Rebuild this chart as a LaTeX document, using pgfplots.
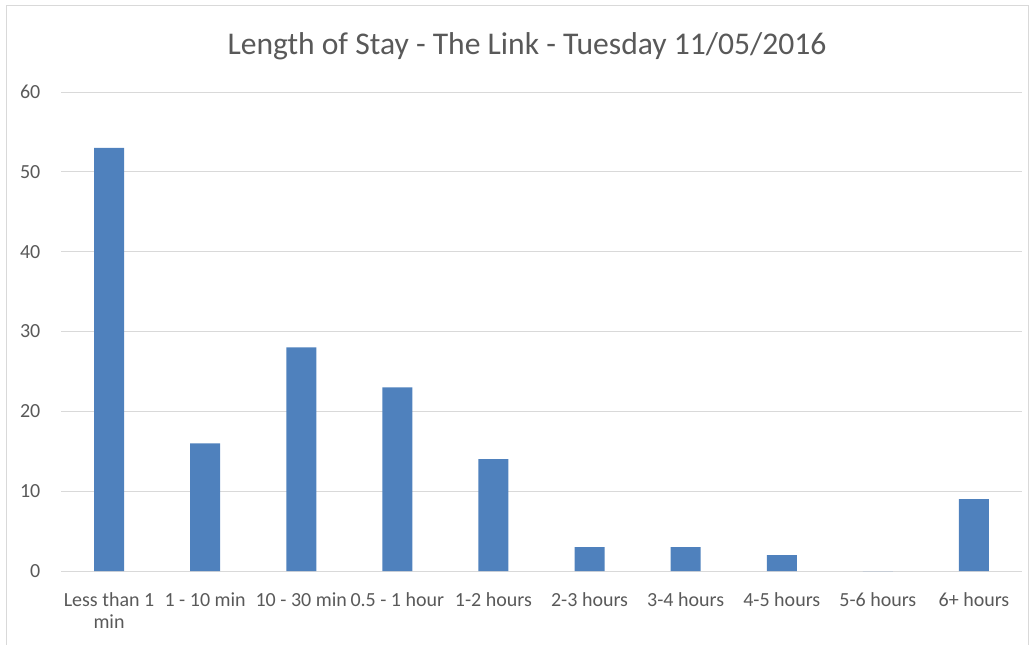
\documentclass[border=0pt]{standalone}
\usepackage{fontspec}
\setmainfont{Carlito}
\usepackage{pgfplots}
\pgfplotsset{compat=1.18}
\definecolor{barc}{HTML}{4F81BD}
\definecolor{gridc}{HTML}{D9D9D9}
\definecolor{txt}{HTML}{595959}
\begin{document}
\begin{tikzpicture}
\useasboundingbox (0,0) rectangle (775.5pt,483pt);
\begin{scope}
\clip (0,0) rectangle (775.5pt,483pt);
\draw[gridc, line width=0.75pt] (4.5pt,-10pt) rectangle (771pt,478.5pt);
\end{scope}
\node[text=txt, font=\fontsize{23.7}{28}\selectfont] at (395.25pt,448.5pt) {Length of Stay - The Link - Tuesday 11/05/2016};
\begin{axis}[
  at={(45.75pt,54.75pt)}, anchor=south west,
  scale only axis, width=720.75pt, height=359.25pt,
  ybar, bar width=22.5pt,
  xmin=-0.5, xmax=9.5, ymin=0, ymax=60,
  ytick={0,10,...,60},
  xtick={0,...,9},
  xticklabels={{Less than 1\\min},{1 - 10 min},{10 - 30 min},{0.5 - 1 hour},{1-2 hours},{2-3 hours},{3-4 hours},{4-5 hours},{5-6 hours},{6+ hours}},
  axis line style={draw=none},
  major tick length=0pt,
  ymajorgrids, grid style={gridc, line width=0.75pt},
  ticklabel style={text=txt, font=\fontsize{15}{16.5}\selectfont},
  xticklabel style={align=center, yshift=-13pt},
  yticklabel style={xshift=-12pt},
  /pgf/number format/assume math mode=true,
]
\addplot[fill=barc, draw=none] coordinates {(0,53) (1,16) (2,28) (3,23) (4,14) (5,3) (6,3) (7,2) (8,0) (9,9)};
\end{axis}
\end{tikzpicture}
\end{document}
